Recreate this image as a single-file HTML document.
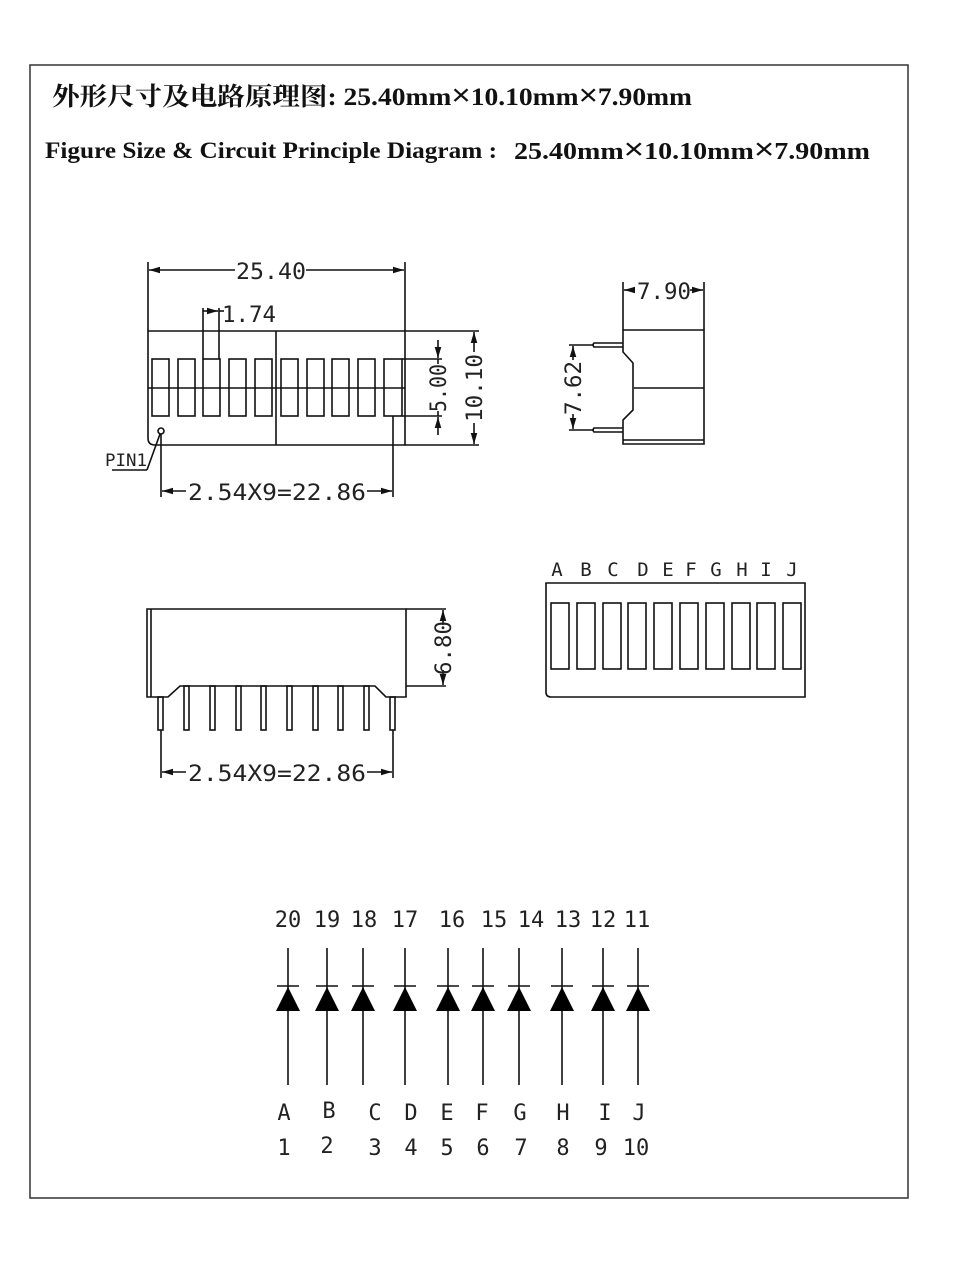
<!DOCTYPE html>
<html><head><meta charset="utf-8"><style>
html,body{margin:0;padding:0;background:#fff}
svg{display:block}
.d{font-family:"DejaVu Sans Mono","Liberation Mono",monospace;fill:#222}
.x{font-weight:normal;font-family:"Liberation Sans",sans-serif}
</style></head><body>
<svg width="960" height="1288" viewBox="0 0 960 1288" xmlns="http://www.w3.org/2000/svg">
<defs>
<marker id="a" viewBox="0 0 10 10" refX="10" refY="5" markerWidth="7" markerHeight="7" orient="auto-start-reverse"><path d="M0,2 L10,5 L0,8 z" fill="#111"/></marker>
</defs>
<rect x="30" y="65" width="878" height="1133" fill="none" stroke="#333" stroke-width="1.5"/>
<text x="52" y="105" font-family="'Liberation Serif','Noto Serif CJK SC',serif" font-weight="bold" font-size="25" fill="#111" textLength="640" lengthAdjust="spacingAndGlyphs">外形尺寸及电路原理图: 25.40mm<tspan class="x" font-size="30">×</tspan>10.10mm<tspan class="x" font-size="30">×</tspan>7.90mm</text>
<text x="45" y="158" font-family="'Liberation Serif',serif" font-weight="bold" font-size="23" fill="#111" textLength="452" lengthAdjust="spacingAndGlyphs">Figure Size &amp; Circuit Principle Diagram :</text>
<text x="514" y="159" font-family="'Liberation Serif',serif" font-weight="bold" font-size="24" fill="#111" textLength="356" lengthAdjust="spacingAndGlyphs">25.40mm<tspan class="x" font-size="30">×</tspan>10.10mm<tspan class="x" font-size="30">×</tspan>7.90mm</text>

<g stroke="#111" stroke-width="1.6" fill="none">
<path d="M148,331 H405 V445 H155 Q148,445 148,438 Z"/>
<line x1="148" y1="388" x2="405" y2="388"/>
<line x1="276" y1="331" x2="276" y2="445"/>
<rect x="152" y="359" width="17" height="57"/>
<rect x="178" y="359" width="17" height="57"/>
<rect x="203" y="359" width="17" height="57"/>
<rect x="229" y="359" width="17" height="57"/>
<rect x="255" y="359" width="17" height="57"/>
<rect x="281" y="359" width="17" height="57"/>
<rect x="307" y="359" width="17" height="57"/>
<rect x="332" y="359" width="17" height="57"/>
<rect x="358" y="359" width="17" height="57"/>
<rect x="384" y="359" width="18" height="57"/>
<line x1="148" y1="262" x2="148" y2="331"/>
<line x1="405" y1="262" x2="405" y2="331"/>
<line x1="149" y1="270" x2="235" y2="270" marker-start="url(#a)"/>
<line x1="306" y1="270" x2="404" y2="270" marker-end="url(#a)"/>
<line x1="203" y1="308" x2="203" y2="359"/>
<line x1="219" y1="308" x2="219" y2="359"/>
<line x1="203" y1="311" x2="218" y2="311" marker-end="url(#a)"/>
<line x1="219" y1="311" x2="224" y2="311"/>
<line x1="402" y1="359" x2="442" y2="359"/>
<line x1="402" y1="416" x2="442" y2="416"/>
<line x1="438" y1="340" x2="438" y2="358" marker-end="url(#a)"/>
<line x1="438" y1="435" x2="438" y2="417" marker-end="url(#a)"/>
<line x1="438" y1="359" x2="438" y2="364"/>
<line x1="438" y1="411" x2="438" y2="416"/>
<line x1="405" y1="331" x2="479" y2="331"/>
<line x1="405" y1="445" x2="479" y2="445"/>
<line x1="474" y1="352" x2="474" y2="332" marker-end="url(#a)"/>
<line x1="474" y1="423" x2="474" y2="444" marker-end="url(#a)"/>
<circle cx="161" cy="431" r="3"/>
<line x1="160" y1="434" x2="147" y2="470"/>
<line x1="147" y1="470" x2="112" y2="470"/>
<line x1="161" y1="434" x2="161" y2="497"/>
<line x1="393" y1="416" x2="393" y2="497"/>
<line x1="162" y1="491" x2="186" y2="491" marker-start="url(#a)"/>
<line x1="367" y1="491" x2="392" y2="491" marker-end="url(#a)"/>

<path d="M623,330 H704 V444 H623 V420 L633,410 V363 L623,352 Z"/>
<line x1="623" y1="440" x2="704" y2="440"/>
<line x1="634" y1="388" x2="704" y2="388"/>
<line x1="623" y1="282" x2="623" y2="330"/>
<line x1="704" y1="282" x2="704" y2="330"/>
<line x1="624" y1="290" x2="635" y2="290" marker-start="url(#a)"/>
<line x1="690" y1="290" x2="703" y2="290" marker-end="url(#a)"/>
<path d="M623,343 H594 Q592,345 594,347 H623"/>
<path d="M623,428 H594 Q592,430 594,432 H623"/>
<line x1="569" y1="345" x2="594" y2="345"/>
<line x1="569" y1="430" x2="594" y2="430"/>
<line x1="573" y1="360" x2="573" y2="346" marker-end="url(#a)"/>
<line x1="573" y1="414" x2="573" y2="429" marker-end="url(#a)"/>

<path d="M546,583 H805 V697 H551 Q546,697 546,692 Z"/>
<rect x="551" y="603" width="18" height="66"/>
<rect x="577" y="603" width="18" height="66"/>
<rect x="603" y="603" width="18" height="66"/>
<rect x="628" y="603" width="18" height="66"/>
<rect x="654" y="603" width="18" height="66"/>
<rect x="680" y="603" width="18" height="66"/>
<rect x="706" y="603" width="18" height="66"/>
<rect x="732" y="603" width="18" height="66"/>
<rect x="757" y="603" width="18" height="66"/>
<rect x="783" y="603" width="18" height="66"/>

<path d="M147,609 H406 V697 H386 L375,686 H180 L168,697 H147 Z"/>
<line x1="151" y1="609" x2="151" y2="697"/>
<line x1="406" y1="609" x2="446" y2="609"/>
<line x1="406" y1="686" x2="446" y2="686"/>
<line x1="443" y1="625" x2="443" y2="610" marker-end="url(#a)"/>
<line x1="443" y1="670" x2="443" y2="685" marker-end="url(#a)"/>
<rect x="158" y="697" width="5" height="33"/>
<rect x="184" y="686" width="5" height="44"/>
<rect x="210" y="686" width="5" height="44"/>
<rect x="236" y="686" width="5" height="44"/>
<rect x="261" y="686" width="5" height="44"/>
<rect x="287" y="686" width="5" height="44"/>
<rect x="313" y="686" width="5" height="44"/>
<rect x="338" y="686" width="5" height="44"/>
<rect x="364" y="686" width="5" height="44"/>
<rect x="390" y="697" width="5" height="33"/>
<line x1="161" y1="730" x2="161" y2="778"/>
<line x1="393" y1="730" x2="393" y2="778"/>
<line x1="162" y1="772" x2="186" y2="772" marker-start="url(#a)"/>
<line x1="367" y1="772" x2="392" y2="772" marker-end="url(#a)"/>
</g>

<g class="d" font-size="22">
<text x="236" y="279" textLength="70" lengthAdjust="spacingAndGlyphs">25.40</text>
<text x="222" y="322" textLength="54" lengthAdjust="spacingAndGlyphs">1.74</text>
<text x="188" y="500" textLength="178" lengthAdjust="spacingAndGlyphs">2.54X9=22.86</text>
<text x="188" y="781" textLength="178" lengthAdjust="spacingAndGlyphs">2.54X9=22.86</text>
<text x="637" y="299" textLength="54" lengthAdjust="spacingAndGlyphs">7.90</text>
<text transform="translate(446,388) rotate(-90)" text-anchor="middle" textLength="48" lengthAdjust="spacingAndGlyphs">5.00</text>
<text transform="translate(482,388) rotate(-90)" text-anchor="middle" textLength="68" lengthAdjust="spacingAndGlyphs">10.10</text>
<text transform="translate(581,388) rotate(-90)" text-anchor="middle" textLength="54" lengthAdjust="spacingAndGlyphs">7.62</text>
<text transform="translate(451,648) rotate(-90)" text-anchor="middle" textLength="54" lengthAdjust="spacingAndGlyphs">6.80</text>
<text x="105" y="466" font-size="17" textLength="42" lengthAdjust="spacingAndGlyphs">PIN1</text>
</g>

<g class="d" font-size="19" text-anchor="middle">
<text x="557" y="576">A</text><text x="586" y="576">B</text><text x="613" y="576">C</text><text x="643" y="576">D</text><text x="668" y="576">E</text><text x="691" y="576">F</text><text x="716" y="576">G</text><text x="742" y="576">H</text><text x="766" y="576">I</text><text x="792" y="576">J</text>
</g>

<g stroke="#111" stroke-width="1.6">
<line x1="288" y1="948" x2="288" y2="1085"/><line x1="277" y1="986" x2="299" y2="986"/>
<line x1="327" y1="948" x2="327" y2="1085"/><line x1="316" y1="986" x2="338" y2="986"/>
<line x1="363" y1="948" x2="363" y2="1085"/><line x1="352" y1="986" x2="374" y2="986"/>
<line x1="405" y1="948" x2="405" y2="1085"/><line x1="394" y1="986" x2="416" y2="986"/>
<line x1="448" y1="948" x2="448" y2="1085"/><line x1="437" y1="986" x2="459" y2="986"/>
<line x1="483" y1="948" x2="483" y2="1085"/><line x1="472" y1="986" x2="494" y2="986"/>
<line x1="519" y1="948" x2="519" y2="1085"/><line x1="508" y1="986" x2="530" y2="986"/>
<line x1="562" y1="948" x2="562" y2="1085"/><line x1="551" y1="986" x2="573" y2="986"/>
<line x1="603" y1="948" x2="603" y2="1085"/><line x1="592" y1="986" x2="614" y2="986"/>
<line x1="638" y1="948" x2="638" y2="1085"/><line x1="627" y1="986" x2="649" y2="986"/>
</g>
<g fill="#000">
<path d="M288,987 L276,1011 H300 Z"/><path d="M327,987 L315,1011 H339 Z"/><path d="M363,987 L351,1011 H375 Z"/><path d="M405,987 L393,1011 H417 Z"/><path d="M448,987 L436,1011 H460 Z"/><path d="M483,987 L471,1011 H495 Z"/><path d="M519,987 L507,1011 H531 Z"/><path d="M562,987 L550,1011 H574 Z"/><path d="M603,987 L591,1011 H615 Z"/><path d="M638,987 L626,1011 H650 Z"/>
</g>
<g class="d" font-size="22" text-anchor="middle">
<text x="288" y="927">20</text><text x="327" y="927">19</text><text x="364" y="927">18</text><text x="405" y="927">17</text><text x="452" y="927">16</text><text x="494" y="927">15</text><text x="531" y="927">14</text><text x="568" y="927">13</text><text x="603" y="927">12</text><text x="637" y="927">11</text>
<text x="284" y="1120">A</text><text x="329" y="1118">B</text><text x="375" y="1120">C</text><text x="411" y="1120">D</text><text x="447" y="1120">E</text><text x="482" y="1120">F</text><text x="520" y="1120">G</text><text x="563" y="1120">H</text><text x="605" y="1120">I</text><text x="639" y="1120">J</text>
<text x="284" y="1155">1</text><text x="327" y="1153">2</text><text x="375" y="1155">3</text><text x="411" y="1155">4</text><text x="447" y="1155">5</text><text x="483" y="1155">6</text><text x="521" y="1155">7</text><text x="563" y="1155">8</text><text x="601" y="1155">9</text><text x="636" y="1155">10</text>
</g>
</svg>
</body></html>
